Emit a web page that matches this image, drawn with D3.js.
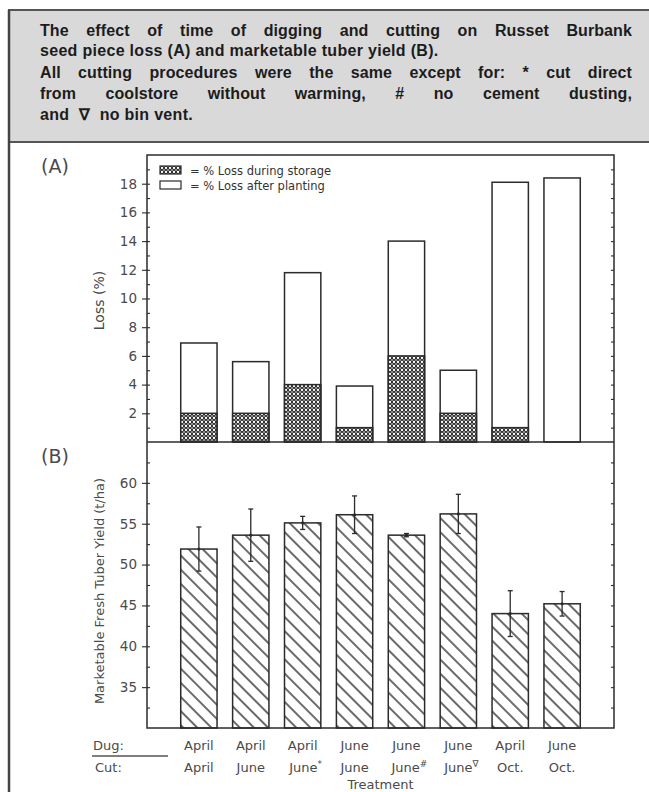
<!DOCTYPE html>
<html>
<head>
<meta charset="utf-8">
<script src="https://cdn.jsdelivr.net/npm/d3@7"></script>
<style>
  body { margin: 0; background: #fff; }
  svg { display: block; }
</style>
</head>
<body>
<div id="chart"></div>
<script>
// treatments (dug / cut)
const dug = ["April", "April", "April", "June", "June", "June", "April", "June"];
const cut = ["April", "June", "June", "June", "June", "June", "Oct.", "Oct."];
const cutMark = ["", "", "*", "", "#", "\u2207", "", ""];

// (A) loss %, stacked: storage + after planting
const lossStorage = [2.0, 2.0, 4.0, 1.0, 6.0, 2.0, 1.0, 0];
const lossTotal = [6.9, 5.6, 11.8, 3.9, 14.0, 5.0, 18.1, 18.4];

// (B) marketable yield t/ha with error
const yieldMean = [51.9, 53.6, 55.1, 56.1, 53.6, 56.2, 44.0, 45.2];
const yieldErr = [2.7, 3.2, 0.8, 2.3, 0.2, 2.4, 2.8, 1.5];

const ticksA = [2, 4, 6, 8, 10, 12, 14, 16, 18];
const ticksB = [35, 40, 45, 50, 55, 60];

const headerLines = [
    {text: "The effect of time of digging and cutting on Russet Burbank", justify: true},
    {text: "seed piece loss (A) and marketable tuber yield (B).", justify: false},
    {text: "All cutting procedures were the same except for: * cut direct", justify: true},
    {text: "from coolstore without warming, # no cement dusting,", justify: true},
    {text: "and  \u2207  no bin vent.", justify: false}
];

const width = 649, height = 792;
const plot = { left: 147, right: 614, topA: 155, mid: 442, bottom: 728 };
const ink = "#2b2b2b";
const grey = "#4a4a4a";
const chartFont = "'DejaVu Sans', sans-serif";

const svg = d3.select("#chart").append("svg")
    .attr("width", width)
    .attr("height", height);

const defs = svg.append("defs");

// fine crosshatch for storage loss
const cross = defs.append("pattern")
    .attr("id", "cross")
    .attr("patternUnits", "userSpaceOnUse")
    .attr("width", 4).attr("height", 4);
cross.append("rect").attr("width", 4).attr("height", 4).attr("fill", "#2e2e2e");
cross.append("circle").attr("cx", 2).attr("cy", 2).attr("r", 1.15).attr("fill", "#fff");
[[0, 0], [4, 4], [4, 0], [0, 4]].forEach(([cx, cy]) => {
    cross.append("circle").attr("cx", cx).attr("cy", cy).attr("r", 0.8).attr("fill", "#fff");
});

// diagonal hatch for yield bars
const hatch = defs.append("pattern")
    .attr("id", "hatch")
    .attr("patternUnits", "userSpaceOnUse")
    .attr("width", 10).attr("height", 10)
    .attr("patternTransform", "rotate(-45)");
hatch.append("rect").attr("width", 10).attr("height", 10).attr("fill", "#fff");
hatch.append("line")
    .attr("x1", 5).attr("y1", 0).attr("x2", 5).attr("y2", 10)
    .attr("stroke", ink).attr("stroke-width", 1.4);

// ---- header box ----
svg.append("rect")
    .attr("x", 9).attr("y", 10)
    .attr("width", width).attr("height", 132)
    .attr("fill", "#d9d9d9")
    .attr("stroke", "#555").attr("stroke-width", 2);

svg.append("line")
    .attr("x1", 9).attr("x2", 9)
    .attr("y1", 10).attr("y2", height)
    .attr("stroke", "#444").attr("stroke-width", 2.5);

const headerY = [36, 56, 78, 99, 120];
const textLeft = 40, textRight = 632;
headerLines.forEach((ln, i) => {
    const t = svg.append("text")
        .attr("x", textLeft)
        .attr("y", headerY[i])
        .attr("font-family", "'Liberation Sans', Arial, sans-serif")
        .attr("font-weight", "bold")
        .attr("font-size", 16)
        .attr("letter-spacing", ln.justify ? 0.1 : 0.3)
        .attr("fill", "#1c1c1c")
        .style("white-space", "pre")
        .text(ln.text);
    if (ln.justify) {
        const natural = t.node().getComputedTextLength();
        const gaps = ln.text.split(/ +/).length - 1;
        if (natural < textRight - textLeft) {
            t.attr("word-spacing", (textRight - textLeft - natural) / gaps);
        } else {
            t.attr("textLength", textRight - textLeft)
                .attr("lengthAdjust", "spacingAndGlyphs");
        }
    }
});

// ---- scales ----
const x = d3.scaleBand()
    .domain(d3.range(dug.length))
    .range([plot.left, plot.right])
    .paddingInner(0.3)
    .paddingOuter(0.65);

const yA = d3.scaleLinear().domain([0, 20]).range([plot.mid, plot.topA]);
const yB = d3.scaleLinear().domain([30, 65]).range([plot.bottom, plot.mid]);

// ---- panel A bars ----
const gA = svg.append("g");
gA.selectAll("rect.total")
    .data(lossTotal)
    .join("rect")
    .attr("class", "total")
    .attr("x", (d, i) => x(i))
    .attr("y", d => yA(d))
    .attr("width", x.bandwidth())
    .attr("height", d => yA(0) - yA(d))
    .attr("fill", "#fff")
    .attr("stroke", ink).attr("stroke-width", 1.5);

gA.selectAll("rect.storage")
    .data(lossStorage.map((v, i) => ({v, i})).filter(d => d.v > 0))
    .join("rect")
    .attr("class", "storage")
    .attr("x", d => x(d.i))
    .attr("y", d => yA(d.v))
    .attr("width", x.bandwidth())
    .attr("height", d => yA(0) - yA(d.v))
    .attr("fill", "url(#cross)")
    .attr("stroke", ink).attr("stroke-width", 1.5);

// ---- panel B bars ----
const gB = svg.append("g");
gB.selectAll("rect")
    .data(yieldMean)
    .join("rect")
    .attr("x", (d, i) => x(i))
    .attr("y", d => yB(d))
    .attr("width", x.bandwidth())
    .attr("height", d => yB(30) - yB(d))
    .attr("fill", "url(#hatch)")
    .attr("stroke", ink).attr("stroke-width", 1.5);

const err = gB.selectAll("g.err")
    .data(yieldMean.map((m, i) => ({m, e: yieldErr[i], i})))
    .join("g")
    .attr("class", "err")
    .attr("transform", d => `translate(${x(d.i) + x.bandwidth() / 2},0)`);
err.append("line")
    .attr("y1", d => yB(d.m - d.e)).attr("y2", d => yB(d.m + d.e))
    .attr("stroke", ink).attr("stroke-width", 1.3);
err.append("line")
    .attr("x1", -2.5).attr("x2", 2.5)
    .attr("y1", d => yB(d.m + d.e)).attr("y2", d => yB(d.m + d.e))
    .attr("stroke", ink).attr("stroke-width", 1.3);
err.append("line")
    .attr("x1", -2.5).attr("x2", 2.5)
    .attr("y1", d => yB(d.m - d.e)).attr("y2", d => yB(d.m - d.e))
    .attr("stroke", ink).attr("stroke-width", 1.3);
err.append("circle")
    .attr("cy", d => yB(d.m)).attr("r", 1.6)
    .attr("fill", ink);

// ---- frames and axes ----
svg.append("rect")
    .attr("x", plot.left).attr("y", plot.topA)
    .attr("width", plot.right - plot.left)
    .attr("height", plot.bottom - plot.topA)
    .attr("fill", "none")
    .attr("stroke", ink).attr("stroke-width", 1.5);
svg.append("line")
    .attr("x1", plot.left).attr("x2", plot.right)
    .attr("y1", plot.mid).attr("y2", plot.mid)
    .attr("stroke", ink).attr("stroke-width", 1.5);

function styleAxis(g) {
    g.select(".domain").remove();
    g.selectAll("line").attr("stroke", ink).attr("stroke-width", 1.1);
    g.selectAll("text")
        .attr("font-family", chartFont)
        .attr("font-size", 13.5)
        .attr("fill", grey);
}

// minor ticks
const minorA = d3.range(1, 20, 1);
const minorB = d3.range(32.5, 65, 2.5);
[[yA, minorA], [yB, minorB]].forEach(([s, m]) => {
    svg.append("g")
        .attr("transform", `translate(${plot.left},0)`)
        .call(d3.axisRight(s).tickValues(m).tickSize(3).tickFormat(""))
        .call(styleAxis);
    svg.append("g")
        .attr("transform", `translate(${plot.right},0)`)
        .call(d3.axisLeft(s).tickValues(m).tickSize(3).tickFormat(""))
        .call(styleAxis);
});

svg.append("g")
    .attr("transform", `translate(${plot.left},0)`)
    .call(d3.axisLeft(yA).tickValues(ticksA).tickSize(5).tickPadding(5))
    .call(styleAxis);
svg.append("g")
    .attr("transform", `translate(${plot.left},0)`)
    .call(d3.axisLeft(yB).tickValues(ticksB).tickSize(5).tickPadding(5))
    .call(styleAxis);

// axis titles
svg.append("text")
    .attr("transform", `translate(104,${yA(10) + 2}) rotate(-90)`)
    .attr("text-anchor", "middle")
    .attr("font-family", chartFont).attr("font-size", 14)
    .attr("fill", grey)
    .text("Loss (%)");
svg.append("text")
    .attr("transform", `translate(104,${(plot.mid + plot.bottom) / 2 + 6}) rotate(-90)`)
    .attr("text-anchor", "middle")
    .attr("font-family", chartFont).attr("font-size", 13)
    .attr("fill", grey)
    .text("Marketable Fresh Tuber Yield (t/ha)");

svg.append("text")
    .attr("x", 41).attr("y", 173)
    .attr("font-family", chartFont).attr("font-size", 19)
    .attr("fill", grey)
    .text("(A)");
svg.append("text")
    .attr("x", 41).attr("y", 463)
    .attr("font-family", chartFont).attr("font-size", 19)
    .attr("fill", grey)
    .text("(B)");

// legend
const legend = [
    {fill: "url(#cross)", label: "= % Loss during storage"},
    {fill: "#fff", label: "= % Loss after planting"}
];
const lg = svg.append("g").attr("transform", "translate(160,166)");
legend.forEach((d, i) => {
    lg.append("rect")
        .attr("x", 0).attr("y", i * 15)
        .attr("width", 21).attr("height", 8)
        .attr("fill", d.fill)
        .attr("stroke", ink).attr("stroke-width", 1.2);
    lg.append("text")
        .attr("x", 30).attr("y", i * 15 + 8.5)
        .attr("font-family", chartFont).attr("font-size", 11.5)
        .attr("fill", "#333")
        .text(d.label);
});

// treatment labels
const lab = svg.append("g")
    .attr("font-family", chartFont).attr("font-size", 13)
    .attr("fill", grey);
lab.append("text").attr("x", 93).attr("y", 750).text("Dug:");
lab.append("text").attr("x", 95).attr("y", 772).text("Cut:");
svg.append("line")
    .attr("x1", 92).attr("x2", 168)
    .attr("y1", 756).attr("y2", 756)
    .attr("stroke", "#555").attr("stroke-width", 1.3);

lab.selectAll("text.dug")
    .data(dug)
    .join("text")
    .attr("class", "dug")
    .attr("x", (d, i) => x(i) + x.bandwidth() / 2)
    .attr("y", 750)
    .attr("text-anchor", "middle")
    .text(d => d);

const cutText = lab.selectAll("text.cut")
    .data(cut.map((c, i) => ({c, m: cutMark[i], i})))
    .join("text")
    .attr("class", "cut")
    .attr("x", d => x(d.i) + x.bandwidth() / 2 + (d.m ? 3 : 0))
    .attr("y", 772)
    .attr("text-anchor", "middle");
cutText.append("tspan").text(d => d.c);
cutText.filter(d => d.m).append("tspan")
    .attr("dy", -5)
    .attr("font-size", 9)
    .text(d => d.m);

lab.append("text")
    .attr("x", (plot.left + plot.right) / 2)
    .attr("y", 789)
    .attr("text-anchor", "middle")
    .text("Treatment");
</script>
</body>
</html>
